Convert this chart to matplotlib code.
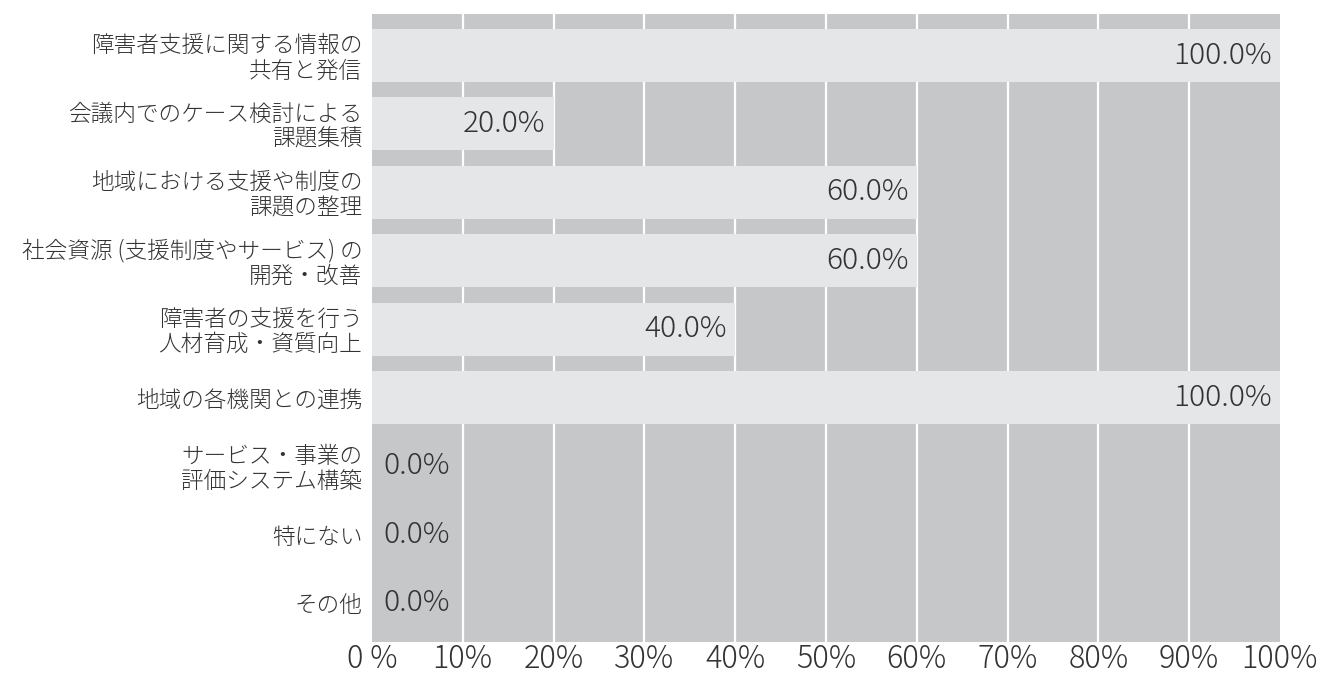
import matplotlib
matplotlib.use("Agg")
import matplotlib.pyplot as plt

plt.rcParams['font.family'] = ['Noto Sans CJK JP', 'DejaVu Sans']

categories = [
    "障害者支援に関する情報の\n共有と発信",
    "会議内でのケース検討による\n課題集積",
    "地域における支援や制度の\n課題の整理",
    "社会資源 (支援制度やサービス) の\n開発・改善",
    "障害者の支援を行う\n人材育成・資質向上",
    "地域の各機関との連携",
    "サービス・事業の\n評価システム構築",
    "特にない",
    "その他",
]
values = [100.0, 20.0, 60.0, 60.0, 40.0, 100.0, 0.0, 0.0, 0.0]
xticks = [0, 10, 20, 30, 40, 50, 60, 70, 80, 90, 100]
xtick_labels = ["0 %"] + ["{}%".format(t) for t in xticks[1:]]

bg = "#c6c7c9"
bar_color = "#e5e6e7"
text_color = "#333333"

fig = plt.figure(figsize=(13.22, 6.75), dpi=100)
ax = fig.add_axes([0.2814, 0.0489, 0.9682 - 0.2814, 0.979 - 0.0489])
ax.set_facecolor(bg)

y = list(range(len(categories)))
ax.barh(y, values, height=0.775, color=bar_color, zorder=2)

# white grid behind the bars
for t in xticks[1:-1]:
    ax.axvline(t, color="white", lw=1.6, zorder=1)

for yi, v in zip(y, values):
    label = "{:.1f}%".format(v)
    if v > 0:
        ax.annotate(label, (v, yi), xytext=(-6, 0), textcoords="offset points",
                    ha="right", va="center", fontsize=21.5, color=text_color,
                    fontweight="light", zorder=3)
    else:
        ax.annotate(label, (0, yi), xytext=(8, 0), textcoords="offset points",
                    ha="left", va="center", fontsize=21.5, color=text_color,
                    fontweight="light", zorder=3)

ax.set_xlim(0, 100)
ax.set_ylim(8.57, -0.6)
ax.set_xticks(xticks)
ax.set_xticklabels(xtick_labels, fontsize=22, color=text_color, fontweight="light")
ax.set_yticks(y)
ax.set_yticklabels(categories, fontsize=16.3, color=text_color, linespacing=1.0,
                   fontweight="light")
ax.tick_params(axis="both", length=0)
ax.tick_params(axis="x", pad=1)
ax.tick_params(axis="y", pad=7)
for s in ax.spines.values():
    s.set_visible(False)

fig.savefig("out.png", dpi=100, facecolor="white")
